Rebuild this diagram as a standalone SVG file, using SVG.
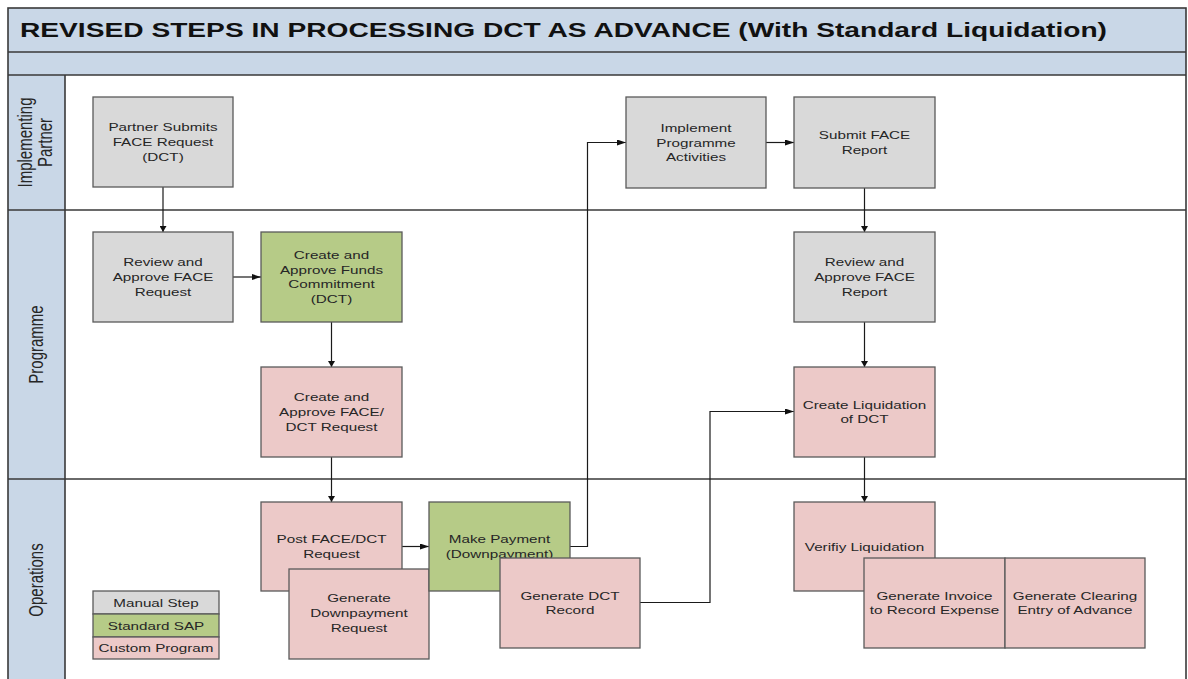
<svg xmlns="http://www.w3.org/2000/svg" width="1188" height="679" viewBox="0 0 1188 679">
  <style>
    .band{fill:#c9d7e7}
    .rule{stroke:#3a3a3a;stroke-width:1.6;fill:none}
    .box{stroke:#5a5a5a;stroke-width:1.3}
    .manual{fill:#d9d9d9}
    .sap{fill:#b6cb87}
    .custom{fill:#ecc9c8}
    .lbl{font-family:"Liberation Sans",Arial,sans-serif;font-size:11.2px;fill:#262626;text-anchor:middle}
    .lane{font-family:"Liberation Sans",Arial,sans-serif;font-size:15px;fill:#262626;text-anchor:middle}
    .title{font-family:"Liberation Sans",Arial,sans-serif;font-size:21px;font-weight:bold;fill:#111}
    .conn{fill:none;stroke:#1a1a1a;stroke-width:1.2}
    .h{marker-end:url(#arrow-h)}
    .v{marker-end:url(#arrow-v)}
  </style>
  <defs>
    <marker id="arrow-h" markerUnits="userSpaceOnUse" markerWidth="9" markerHeight="6" refX="9" refY="3" orient="auto">
      <path d="M0,0 L9,3 L0,6 z" fill="#111"/>
    </marker>
    <marker id="arrow-v" markerUnits="userSpaceOnUse" markerWidth="6" markerHeight="7" refX="6" refY="3.5" orient="auto">
      <path d="M0,0 L6,3.5 L0,7 z" fill="#111"/>
    </marker>
  </defs>

  <!-- pool background, header bands and lane label column -->
  <g id="pool">
    <rect x="8" y="8" width="1178" height="690" fill="#ffffff"/>
    <rect class="band" x="8" y="8" width="1178" height="67"/>
    <rect class="band" x="8" y="75" width="57" height="623"/>
    <rect class="rule" x="8" y="8" width="1178" height="690"/>
    <path class="rule" d="M8,52 H1186 M8,75 H1186 M8,210 H1186 M8,479 H1186 M65,75 V698"/>
    <text class="title" x="20" y="37" textLength="1087" lengthAdjust="spacingAndGlyphs">REVISED STEPS IN PROCESSING DCT AS ADVANCE (With Standard Liquidation)</text>
  </g>

  <g id="lane-labels">
    <text class="lane" transform="translate(36,142.5) scale(1.36,1) rotate(-90)"><tspan x="0" y="-3">Implementing</tspan><tspan x="0" y="12">Partner</tspan></text>
    <text class="lane" transform="translate(36,344.5) scale(1.36,1) rotate(-90)"><tspan x="0" y="5">Programme</tspan></text>
    <text class="lane" transform="translate(36,580) scale(1.36,1) rotate(-90)"><tspan x="0" y="5">Operations</tspan></text>
  </g>

  <!-- connectors -->
  <g id="connectors">
    <path class="conn v" d="M163,187 V232"/>
    <path class="conn h" d="M233,277 H261"/>
    <path class="conn v" d="M331.5,322 V367"/>
    <path class="conn v" d="M331.5,457 V502"/>
    <path class="conn h" d="M402,546.5 H429"/>
    <path class="conn h" d="M570,546.5 H587.5 V142.5 H626"/>
    <path class="conn h" d="M766,142.5 H794"/>
    <path class="conn v" d="M864.5,188 V232"/>
    <path class="conn v" d="M864.5,322 V367"/>
    <path class="conn h" d="M640,602.5 H710 V411.5 H794"/>
    <path class="conn v" d="M864.5,457 V502"/>
  </g>

  <!-- Implementing Partner lane -->
  <g id="partner-submits">
    <rect class="box manual" x="93" y="97" width="140" height="90"/>
    <text class="lbl" transform="translate(163,142) scale(1.36,1)"><tspan x="0" y="-11">Partner Submits</tspan><tspan x="0" y="4">FACE Request</tspan><tspan x="0" y="19">(DCT)</tspan></text>
  </g>
  <g id="implement-activities">
    <rect class="box manual" x="626" y="97" width="140" height="91"/>
    <text class="lbl" transform="translate(696,142.5) scale(1.36,1)"><tspan x="0" y="-11">Implement</tspan><tspan x="0" y="4">Programme</tspan><tspan x="0" y="19">Activities</tspan></text>
  </g>
  <g id="submit-report">
    <rect class="box manual" x="794" y="97" width="141" height="91"/>
    <text class="lbl" transform="translate(864.5,142.5) scale(1.36,1)"><tspan x="0" y="-3.5">Submit FACE</tspan><tspan x="0" y="11.5">Report</tspan></text>
  </g>

  <!-- Programme lane -->
  <g id="review-request">
    <rect class="box manual" x="93" y="232" width="140" height="90"/>
    <text class="lbl" transform="translate(163,277) scale(1.36,1)"><tspan x="0" y="-11">Review and</tspan><tspan x="0" y="4">Approve FACE</tspan><tspan x="0" y="19">Request</tspan></text>
  </g>
  <g id="funds-commitment">
    <rect class="box sap" x="261" y="232" width="141" height="90"/>
    <text class="lbl" transform="translate(331.5,277) scale(1.36,1)"><tspan x="0" y="-18.5">Create and</tspan><tspan x="0" y="-3.5">Approve Funds</tspan><tspan x="0" y="11.5">Commitment</tspan><tspan x="0" y="26.5">(DCT)</tspan></text>
  </g>
  <g id="face-dct-request">
    <rect class="box custom" x="261" y="367" width="141" height="90"/>
    <text class="lbl" transform="translate(331.5,412) scale(1.36,1)"><tspan x="0" y="-11">Create and</tspan><tspan x="0" y="4">Approve FACE/</tspan><tspan x="0" y="19">DCT Request</tspan></text>
  </g>
  <g id="review-report">
    <rect class="box manual" x="794" y="232" width="141" height="90"/>
    <text class="lbl" transform="translate(864.5,277) scale(1.36,1)"><tspan x="0" y="-11">Review and</tspan><tspan x="0" y="4">Approve FACE</tspan><tspan x="0" y="19">Report</tspan></text>
  </g>
  <g id="create-liquidation">
    <rect class="box custom" x="794" y="367" width="141" height="90"/>
    <text class="lbl" transform="translate(864.5,412) scale(1.36,1)"><tspan x="0" y="-3.5">Create Liquidation</tspan><tspan x="0" y="11.5">of DCT</tspan></text>
  </g>

  <!-- Operations lane -->
  <g id="post-request">
    <rect class="box custom" x="261" y="502" width="141" height="89"/>
    <text class="lbl" transform="translate(331.5,546.5) scale(1.36,1)"><tspan x="0" y="-3.5">Post FACE/DCT</tspan><tspan x="0" y="11.5">Request</tspan></text>
  </g>
  <g id="generate-downpayment">
    <rect class="box custom" x="289" y="569" width="140" height="90"/>
    <text class="lbl" transform="translate(359,613) scale(1.36,1)"><tspan x="0" y="-11">Generate</tspan><tspan x="0" y="4">Downpayment</tspan><tspan x="0" y="19">Request</tspan></text>
  </g>
  <g id="make-payment">
    <rect class="box sap" x="429" y="502" width="141" height="89"/>
    <text class="lbl" transform="translate(499.5,546.5) scale(1.36,1)"><tspan x="0" y="-3.5">Make Payment</tspan><tspan x="0" y="11.5">(Downpayment)</tspan></text>
  </g>
  <g id="generate-dct-record">
    <rect class="box custom" x="500" y="558" width="140" height="90"/>
    <text class="lbl" transform="translate(570,603) scale(1.36,1)"><tspan x="0" y="-3.5">Generate DCT</tspan><tspan x="0" y="11.5">Record</tspan></text>
  </g>
  <g id="verify-liquidation">
    <rect class="box custom" x="794" y="502" width="141" height="89"/>
    <text class="lbl" transform="translate(864.5,546.5) scale(1.36,1)"><tspan x="0" y="4">Verifiy Liquidation</tspan></text>
  </g>
  <g id="generate-invoice">
    <rect class="box custom" x="864" y="558" width="141" height="90"/>
    <text class="lbl" transform="translate(934.5,603) scale(1.36,1)"><tspan x="0" y="-3.5">Generate Invoice</tspan><tspan x="0" y="11.5">to Record Expense</tspan></text>
  </g>
  <g id="generate-clearing">
    <rect class="box custom" x="1005" y="558" width="140" height="90"/>
    <text class="lbl" transform="translate(1075,603) scale(1.36,1)"><tspan x="0" y="-3.5">Generate Clearing</tspan><tspan x="0" y="11.5">Entry of Advance</tspan></text>
  </g>

  <!-- colour key -->
  <g id="legend">
    <rect class="box manual" x="93" y="591" width="126" height="23"/>
    <rect class="box sap" x="93" y="614" width="126" height="23"/>
    <rect class="box custom" x="93" y="637" width="126" height="22"/>
    <text class="lbl" transform="translate(156,606.5) scale(1.36,1)">Manual Step</text>
    <text class="lbl" transform="translate(156,629.5) scale(1.36,1)">Standard SAP</text>
    <text class="lbl" transform="translate(156,652) scale(1.36,1)">Custom Program</text>
  </g>
</svg>
